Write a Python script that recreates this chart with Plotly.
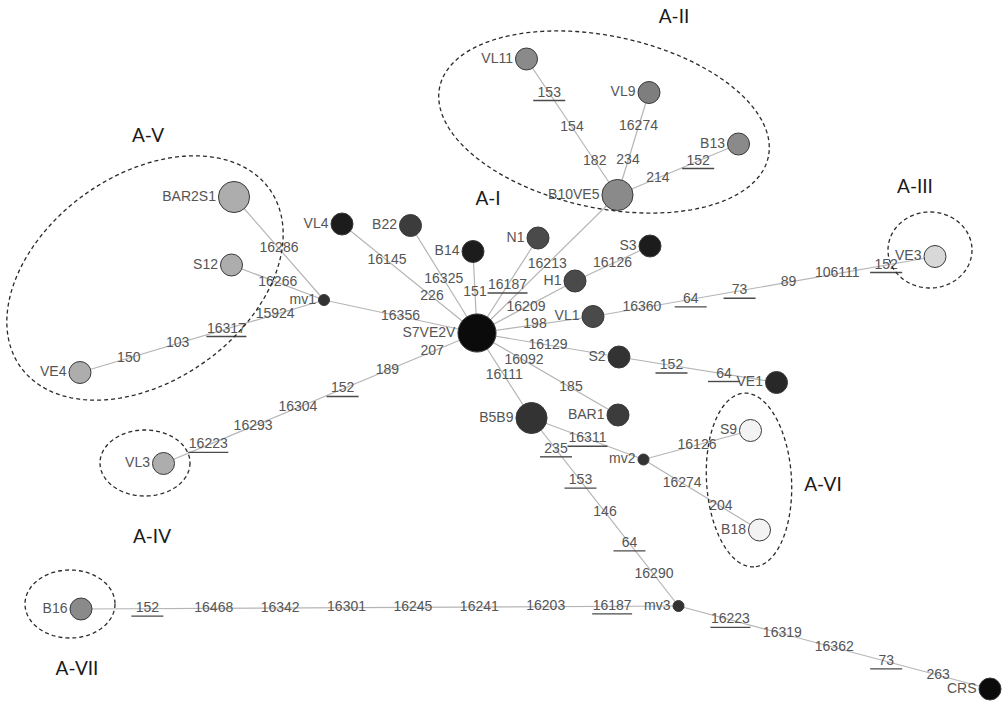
import numpy as np
import plotly.graph_objects as go

# ---- haplotypes (network layout in screen units) ----
node_names = ["S7VE2V", "VL4", "B22", "B14", "N1", "H1", "S3", "VL1", "S2", "BAR1",
              "B5B9", "VE1", "mv1", "mv2", "mv3", "B10VE5", "VL11", "VL9", "B13",
              "BAR2S1", "S12", "VE4", "VL3", "VE3", "S9", "B18", "B16", "CRS"]
node_x = [477, 342, 410.5, 473, 538, 575, 650, 593, 619, 618,
          531.5, 776.5, 324, 643.5, 678.5, 617.5, 526.5, 649, 738.5,
          234, 231.5, 80, 163.5, 935, 750.5, 759.5, 81, 990]
node_y = [333, 224, 225.5, 251.5, 238, 281, 246, 316.5, 357, 415,
          418, 382.5, 300, 459.5, 606, 195, 59, 92.5, 144,
          197, 265, 372.5, 463.5, 256.5, 430.5, 530, 609, 689]
# number of sequences per haplotype (0 = median vector)
node_count = [3, 1, 1, 1, 1, 1, 1, 1, 1, 1,
              2, 1, 0, 0, 0, 2, 1, 1, 1,
              2, 1, 1, 1, 1, 1, 1, 1, 1]
node_shade = ["k", "k2", "d2", "k2", "d3", "d3", "k2", "d3", "d1", "d2",
              "d1", "d0", "mv", "mv", "mv", "g", "g", "g2", "g",
              "l", "l", "l", "l", "vl", "w", "w", "g", "k"]

# ---- links and the mutations along them (listed from first to second node) ----
edge_from = ["S7VE2V", "S7VE2V", "S7VE2V", "S7VE2V", "S7VE2V", "S7VE2V", "S7VE2V",
             "S7VE2V", "S7VE2V", "S7VE2V", "S7VE2V", "S7VE2V", "H1", "VL1", "S2",
             "mv1", "mv1", "mv1", "B10VE5", "B10VE5", "B10VE5", "B5B9", "mv2",
             "mv2", "B5B9", "mv3", "mv3"]
edge_to = ["VL4", "B22", "B14", "N1", "B10VE5", "H1", "VL1", "S2", "BAR1", "B5B9",
           "mv1", "VL3", "S3", "VE3", "VE1", "BAR2S1", "S12", "VE4", "VL11", "VL9",
           "B13", "mv2", "S9", "B18", "mv3", "B16", "CRS"]
edge_mutations = [
    ["226", "16145"], ["16325"], ["151"], ["16187"], ["16213"], ["16209"], ["198"],
    ["16129"], ["16092", "185"], ["16111"], ["16356"],
    ["207", "189", "152", "16304", "16293", "16223"],
    ["16126"], ["16360", "64", "73", "89", "106111", "152"], ["152", "64"],
    ["16286"], ["16266"], ["15924", "16317", "103", "150"],
    ["182", "154", "153"], ["234", "16274"], ["214", "152"],
    ["16311"], ["16126"], ["16274", "204"],
    ["235", "153", "146", "64", "16290"],
    ["16187", "16203", "16241", "16245", "16301", "16342", "16468", "152"],
    ["16223", "16319", "16362", "73", "263"],
]
# recurrent mutations (underlined)
edge_recurrent = [
    [], [], [], ["16187"], [], [], [], [], [], [], [],
    ["152", "16223"], [], ["64", "73", "152"], ["152", "64"],
    [], [], ["16317"], ["153"], [], ["152"], ["16311"], [], [],
    ["235", "153", "64"], ["16187", "152"], ["16223", "73"],
]

# ---- haplogroup clusters ----
cluster_names = ["A-I", "A-II", "A-III", "A-IV", "A-V", "A-VI", "A-VII"]
cluster_label_x = [488, 674, 915, 152, 148, 823, 77]
cluster_label_y = [200, 18, 188, 538, 137, 486, 670]
# outline ellipses: centre x, centre y, semi-major, semi-minor, rotation (deg)
hull_cx = [None, 604, 930, 145, 145, 749, 70]
hull_cy = [None, 122, 250, 463, 278, 480, 604]
hull_a = [None, 168, 42, 45, 153, 87, 45]
hull_b = [None, 86, 38, 33, 103, 42.5, 34]
hull_rot = [None, 12, 0, 0, -35.5, 86.7, 0]

# ---- styles ----
SHADE = {"k": "#0b0b0b", "k2": "#1c1c1c", "d0": "#282828", "d1": "#333333",
         "d2": "#3c3c3c", "d3": "#4a4a4a", "mv": "#333333", "g": "#8a8a8a",
         "g2": "#7e7e7e", "l": "#adadad", "vl": "#d8d8d8", "w": "#f3f3f3"}
W, H = 1003, 701
LABEL_FONT = dict(family="Arial, Liberation Sans, sans-serif", size=14, color="#555555")

idx = {n: i for i, n in enumerate(node_names)}
radius = [11 * np.sqrt(c) if c > 0 else 5.5 for c in node_count]

fig = go.Figure()

# links
lx, ly = [], []
for a, b in zip(edge_from, edge_to):
    lx += [node_x[idx[a]], node_x[idx[b]], None]
    ly += [node_y[idx[a]], node_y[idx[b]], None]
fig.add_trace(go.Scatter(x=lx, y=ly, mode="lines",
                         line=dict(color="#b5b5b5", width=1.2), hoverinfo="skip"))

# mutation labels, evenly spaced along each link
mx, my, mt = [], [], []
shapes = []
for a, b, muts, rec in zip(edge_from, edge_to, edge_mutations, edge_recurrent):
    x0, y0 = node_x[idx[a]], node_y[idx[a]]
    x1, y1 = node_x[idx[b]], node_y[idx[b]]
    n = len(muts)
    for k, m in enumerate(muts, start=1):
        t = k / (n + 1)
        px, py = x0 + t * (x1 - x0), y0 + t * (y1 - y0)
        mx.append(px)
        my.append(py)
        mt.append(m)
        if m in rec:
            half = max(16, 4 * len(m))
            shapes.append(dict(type="line", xref="x", yref="y",
                               x0=px - half, x1=px + half, y0=py + 7.5, y1=py + 7.5,
                               line=dict(color="#4a4a4a", width=1.4)))
fig.add_trace(go.Scatter(x=mx, y=my, mode="text", text=mt, textposition="middle center",
                         textfont=LABEL_FONT, hoverinfo="skip"))

# haplotype circles
fig.add_trace(go.Scatter(
    x=node_x, y=node_y, mode="markers",
    marker=dict(size=[2 * r for r in radius], opacity=1,
                color=[SHADE[s] for s in node_shade],
                line=dict(color="#3a3a3a", width=1)),
    text=node_names, hoverinfo="text"))

# haplotype names to the left of each circle
fig.add_trace(go.Scatter(
    x=[x - r - 2.5 for x, r in zip(node_x, radius)], y=node_y,
    mode="text", text=node_names, textposition="middle left",
    textfont=LABEL_FONT, hoverinfo="skip"))

# cluster names
fig.add_trace(go.Scatter(
    x=cluster_label_x, y=cluster_label_y, mode="text", text=cluster_names,
    textposition="middle center",
    textfont=dict(family="Lato, Open Sans, sans-serif", size=19, color="#1a1a1a"),
    hoverinfo="skip"))

# dashed cluster outlines
tt = np.linspace(0, 2 * np.pi, 181)
for cx, cy, a, b, rot in zip(hull_cx, hull_cy, hull_a, hull_b, hull_rot):
    if cx is None:
        continue
    th = np.deg2rad(rot)
    ex = cx + a * np.cos(tt) * np.cos(th) - b * np.sin(tt) * np.sin(th)
    ey = cy + a * np.cos(tt) * np.sin(th) + b * np.sin(tt) * np.cos(th)
    path = "M " + " L ".join(f"{u:.2f},{v:.2f}" for u, v in zip(ex, ey)) + " Z"
    shapes.append(dict(type="path", xref="x", yref="y", path=path,
                       line=dict(color="#2a2a2a", width=1.3, dash="4px,3px")))

fig.update_layout(
    width=W, height=H, margin=dict(l=0, r=0, t=0, b=0),
    paper_bgcolor="white", plot_bgcolor="white", showlegend=False,
    xaxis=dict(range=[0, W], visible=False, fixedrange=True),
    yaxis=dict(range=[H, 0], visible=False, fixedrange=True),
    shapes=shapes,
)

fig.write_html("out.html")
